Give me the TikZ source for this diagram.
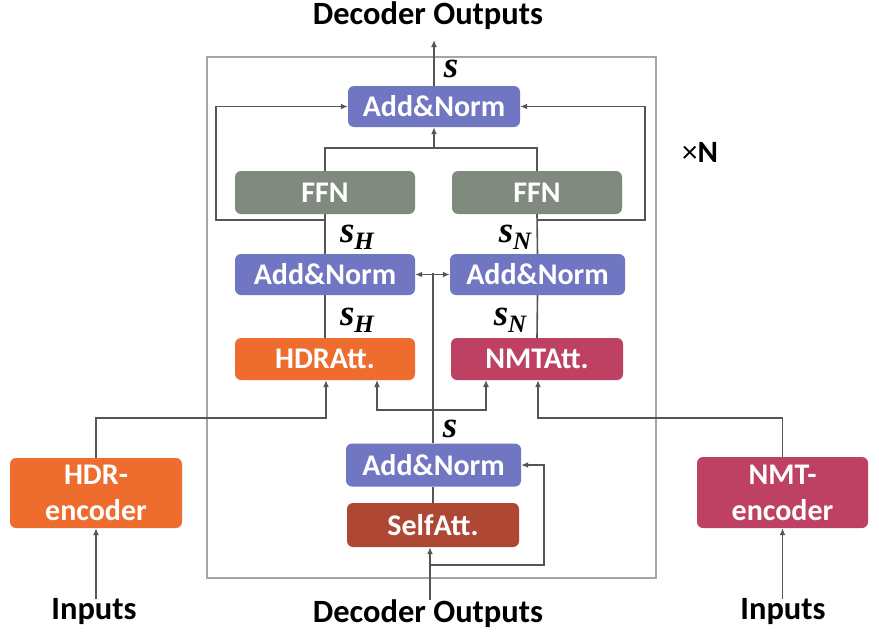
\documentclass[tikz,border=0pt]{standalone}
\usepackage{fontspec}
\setmainfont{Carlito}
\newfontfamily\varfont{Liberation Serif}
\usetikzlibrary{arrows.meta,calc}
\definecolor{cAN}{RGB}{112,118,194}
\definecolor{cFFN}{RGB}{128,138,126}
\definecolor{cHDR}{RGB}{238,108,46}
\definecolor{cNMT}{RGB}{190,64,98}
\definecolor{cSelf}{RGB}{174,72,52}
\definecolor{cLine}{RGB}{85,85,85}
\definecolor{cFrame}{RGB}{165,165,165}
\newcommand{\myvar}{{\varfont\bfseries\itshape\fontsize{37}{38}\selectfont s}}
\newcommand{\myvarsub}[1]{{\varfont\bfseries\itshape\fontsize{37}{38}\selectfont s}\raisebox{-7pt}{\varfont\bfseries\itshape\fontsize{25}{26}\selectfont #1}}
\tikzset{
  blk/.style={rounded corners=6pt, draw=none, text=white, font=\fontsize{30}{32}\selectfont\bfseries, inner sep=0pt, align=center},
  lbl/.style={font=\fontsize{32.5}{34}\selectfont\bfseries, inner sep=0pt},
  mlbl/.style={inner sep=0pt},
  conn/.style={draw=cLine, line width=1.6pt},
  arr/.style={conn, -{Latex[length=7pt,width=6pt]}},
  darr/.style={conn, {Latex[length=7pt,width=6pt]}-{Latex[length=7pt,width=6pt]}},
}
\begin{document}
\begin{tikzpicture}[x=1pt,y=-1pt]
\useasboundingbox (0,0) rectangle (879,640);
\fill[white] (0,0) rectangle (879,640);
% frame
\draw[cFrame, line width=1.6pt] (207,57) rectangle (656,578);
% blocks
\node[blk, fill=cAN, minimum width=172pt, minimum height=41pt] (topAN) at (434,106.5) {Add\&Norm};
\node[blk, fill=cFFN, minimum width=180pt, minimum height=43pt] (ffnL) at (325,192.5) {FFN};
\node[blk, fill=cFFN, minimum width=170pt, minimum height=43pt] (ffnR) at (537,192.5) {FFN};
\node[blk, fill=cAN, minimum width=180pt, minimum height=41pt] (anL) at (325,274.5) {Add\&Norm};
\node[blk, fill=cAN, minimum width=175pt, minimum height=41pt] (anR) at (537.5,274.5) {Add\&Norm};
\node[blk, fill=cHDR, minimum width=180pt, minimum height=42pt] (hdrAtt) at (325,359) {HDRAtt.};
\node[blk, fill=cNMT, minimum width=172pt, minimum height=42pt] (nmtAtt) at (537,359) {NMTAtt.};
\node[blk, fill=cAN, minimum width=175pt, minimum height=43pt] (botAN) at (433.5,465) {Add\&Norm};
\node[blk, fill=cSelf, minimum width=172pt, minimum height=44pt] (selfAtt) at (433,525) {SelfAtt.};
\node[blk, fill=cHDR, minimum width=172pt, minimum height=70pt, font=\fontsize{30}{36}\selectfont\bfseries] (hdrEnc) at (96,493) {HDR-\\encoder};
\node[blk, fill=cNMT, minimum width=171pt, minimum height=71pt, font=\fontsize{30}{36}\selectfont\bfseries] (nmtEnc) at (782.5,492.5) {NMT-\\encoder};
% text labels
\node[lbl] (outTxt) at (428,16) {Decoder Outputs};
\node[lbl] (inTxt) at (428,614) {Decoder Outputs};
\node[lbl] (inL) at (94,612) {Inputs};
\node[lbl] (inR) at (783,612) {Inputs};
\node[font=\fontsize{31}{32}\selectfont, inner sep=0pt] (xN) at (700,152) {×\textbf{N}};
\node[mlbl] (sTop) at (451,69) {\myvar};
\node[mlbl] (sH1) at (357,237) {\myvarsub{H}};
\node[mlbl] (sN1) at (515,237) {\myvarsub{N}};
\node[mlbl] (sH2) at (357,320) {\myvarsub{H}};
\node[mlbl] (sN2) at (510,320) {\myvarsub{N}};
\node[mlbl] (sMid) at (450,429) {\myvar};
% coordinates
\coordinate (oTop) at (434,40);
\coordinate (jTop) at (434,148);
\coordinate (jL) at (325,220);
\coordinate (jR) at (537,220);
\coordinate (jMid) at (433,273);
\coordinate (jBr) at (433,410);
\coordinate (jSelf) at (430,565);
% connectors
\draw[arr] (topAN.north) -- (oTop);
\draw[conn] (ffnL.north) |- (jTop) -| (ffnR.north);
\draw[arr] (jTop) -- (topAN.south);
\draw[conn] (anL.north) -- (ffnL.south);
\draw[conn] (anR.north) -- (ffnR.south);
\draw[arr] (jL) -- (216,220) |- (topAN.west);
\draw[arr] (jR) -- (645,220) |- (topAN.east);
\draw[conn] (hdrAtt.north) -- (anL.south);
\draw[conn] (nmtAtt.north) -- (anR.south);
\draw[darr] (anL.east) -- (anR.west);
\draw[conn] (botAN.north -| jMid) -- (jMid);
\draw[arr] (jBr) -- (377,410) -- (377,380);
\draw[arr] (jBr) -- (486,410) -- (486,380);
\draw[arr] (hdrEnc.north) |- (326,418) -- (hdrAtt.south -| 326,0);
\draw[arr] (nmtEnc.north) |- (538,418) -- (nmtAtt.south -| 538,0);
\draw[conn] (selfAtt.north -| 433,0) -- (botAN.south -| 433,0);
\draw[arr] (inTxt.north -| jSelf) -- (selfAtt.south -| jSelf);
\draw[arr] (jSelf) -- (544,565) |- (botAN.east);
\draw[arr] (inL.north -| hdrEnc.south) -- (hdrEnc.south);
\draw[arr] (inR.north -| nmtEnc.south) -- (nmtEnc.south);
\end{tikzpicture}
\end{document}
